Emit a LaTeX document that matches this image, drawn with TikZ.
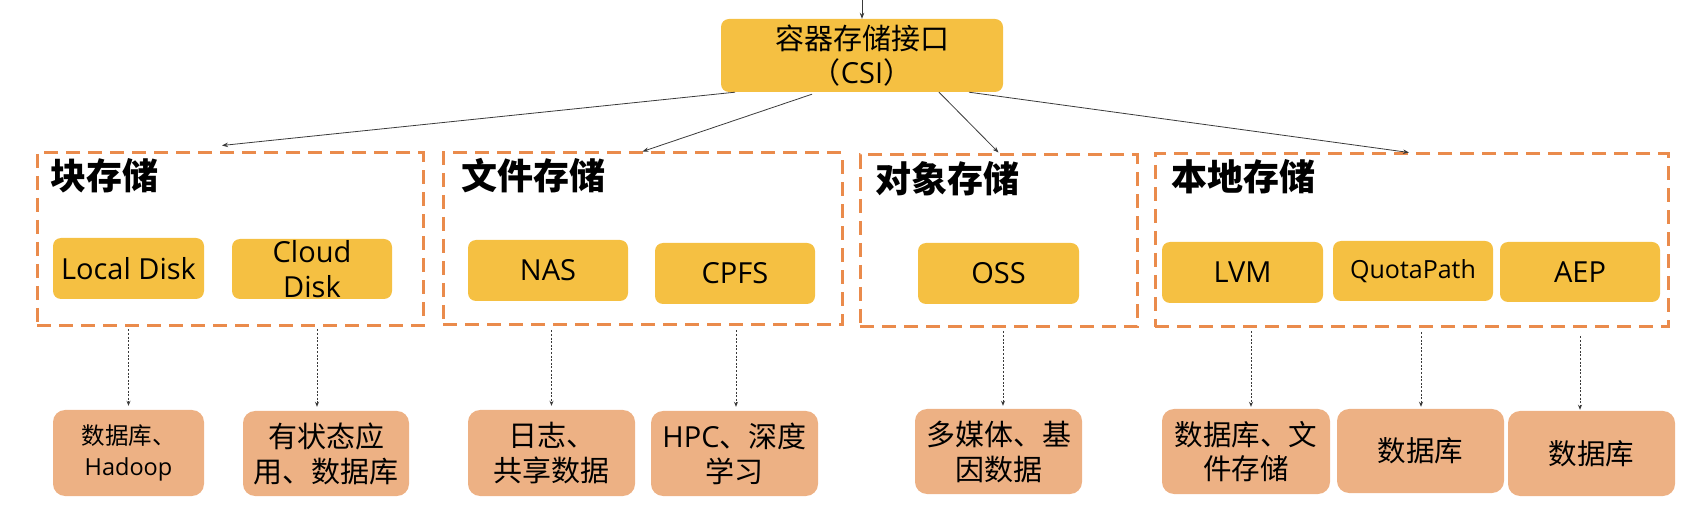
\documentclass[tikz,border=0pt]{standalone}
\usepackage{fontspec}
\setmainfont{Open Sans}
\newfontfamily\lat{Open Sans}
\newfontfamily\cjk{Noto Sans CJK SC}
\usetikzlibrary{arrows.meta}
\definecolor{ybox}{HTML}{F5C042}
\definecolor{tbox}{HTML}{EDB184}
\definecolor{dashc}{HTML}{EA8B4C}
\definecolor{linec}{HTML}{3A3A3A}
\begin{document}
\begin{tikzpicture}[x=1pt,y=-1pt,
  ybx/.style={fill=ybox, rounded corners=8pt, inner sep=0pt, align=center, font=\lat\fontsize{29}{35}\selectfont},
  tbx/.style={fill=tbox, rounded corners=12pt, inner sep=0pt, align=center, font=\cjk\fontsize{29}{35}\selectfont},
  grp/.style={draw=dashc, line width=3pt, dash pattern=on 14pt off 8pt, inner sep=0pt},
  ttl/.style={anchor=base west, inner sep=0pt, font=\cjk\bfseries\fontsize{36}{42}\selectfont},
  conn/.style={draw=linec, line width=0.8pt, -{Stealth[length=6pt,width=4.5pt]}},
  dotarr/.style={draw=linec, line width=1pt, dash pattern=on 2pt off 1.6pt, -{Stealth[length=5pt,width=4pt]}},
]
\useasboundingbox (0,0) rectangle (1706,510);

% top node
\node[ybx, font=\cjk\fontsize{29}{34}\selectfont, minimum width=282pt, minimum height=73pt] (csi) at (862,55.5) {容器存储接口\\（{\lat CSI}）};
\coordinate (topin) at (862,0);
\draw[conn] (topin) -- (csi.north);

% groups
\node[grp, minimum width=386pt, minimum height=173pt] (block) at (230,239.5) {};
\node[grp, minimum width=399pt, minimum height=172pt] (file) at (642.5,239) {};
\node[grp, minimum width=277pt, minimum height=172pt] (object) at (998.5,241) {};
\node[grp, minimum width=513pt, minimum height=173pt] (local) at (1411.5,240.5) {};

% titles
\node[ttl] (tblock) at (50,190) {块存储};
\node[ttl] (tfile) at (461,190) {文件存储};
\node[ttl] (tobject) at (875,193) {对象存储};
\node[ttl] (tlocal) at (1171,191) {本地存储};

% yellow boxes
\node[ybx, minimum width=151pt, minimum height=61pt] (ld) at (128.5,268.5) {Local Disk};
\node[ybx, minimum width=160pt, minimum height=60pt] (cd) at (312,269) {Cloud\\Disk};
\node[ybx, minimum width=160pt, minimum height=61pt] (nas) at (548,270.5) {NAS};
\node[ybx, minimum width=160pt, minimum height=61pt] (cpfs) at (735,273.5) {CPFS};
\node[ybx, minimum width=161pt, minimum height=61pt] (oss) at (998.5,273.5) {OSS};
\node[ybx, minimum width=161pt, minimum height=61pt] (lvm) at (1242.5,272.5) {LVM};
\node[ybx, minimum width=160pt, minimum height=60pt, font=\lat\fontsize{25}{29}\selectfont] (qp) at (1413,271) {QuotaPath};
\node[ybx, minimum width=160pt, minimum height=60pt] (aep) at (1580,272) {AEP};

% tan boxes
\node[tbx, minimum width=151pt, minimum height=86pt, font=\cjk\fontsize{23.5}{31}\selectfont] (t1) at (128.5,453) {数据库、\\{\lat Hadoop}};
\node[tbx, minimum width=166pt, minimum height=85pt] (t2) at (326,453.5) {有状态应\\用、数据库};
\node[tbx, minimum width=167pt, minimum height=86pt] (t3) at (551.5,453) {日志、\\共享数据};
\node[tbx, minimum width=167pt, minimum height=85pt] (t4) at (734.5,453.5) {{\lat HPC}、深度\\学习};
\node[tbx, minimum width=167pt, minimum height=85pt] (t5) at (998.5,451.5) {多媒体、基\\因数据};
\node[tbx, minimum width=168pt, minimum height=85pt, font=\cjk\fontsize{28.5}{34}\selectfont] (t6) at (1246,451.5) {数据库、文\\件存储};
\node[tbx, minimum width=167pt, minimum height=84pt, font=\cjk\fontsize{28.5}{34}\selectfont] (t7) at (1420.5,451) {数据库};
\node[tbx, minimum width=167pt, minimum height=85pt, font=\cjk\fontsize{28.5}{34}\selectfont] (t8) at (1591.5,453.5) {数据库};

% connectors from CSI
\draw[conn] ([xshift=-127pt]csi.south) -- ([xshift=-8pt,yshift=6pt]block.north);
\draw[conn] ([xshift=-50pt,yshift=-2pt]csi.south) -- (file.north);
\draw[conn] ([xshift=77pt]csi.south) -- ([yshift=1pt]object.north);
\draw[conn] ([xshift=107pt]csi.south) -- ([xshift=-2.5pt]local.north);

% dotted arrows
\coordinate (a1) at ([yshift=4pt]t1.north);
\coordinate (a2) at ([xshift=-9pt,yshift=4pt]t2.north);
\coordinate (a3) at ([yshift=4pt]t3.north);
\coordinate (a4) at ([xshift=1.5pt,yshift=4pt]t4.north);
\coordinate (a5) at ([xshift=4.5pt,yshift=3pt]t5.north);
\coordinate (a6) at ([xshift=5pt,yshift=2pt]t6.north);
\coordinate (a7) at ([xshift=0.5pt,yshift=2pt]t7.north);
\coordinate (a8) at ([xshift=-11.5pt,yshift=1pt]t8.north);
\draw[dotarr] ([yshift=-2pt]a1 |- block.south) -- (a1);
\draw[dotarr] ([yshift=-2pt]a2 |- block.south) -- (a2);
\draw[dotarr] ([yshift=-4pt]a3 |- file.south) -- (a3);
\draw[dotarr] ([yshift=-4pt]a4 |- file.south) -- (a4);
\draw[dotarr] ([yshift=-3pt]a5 |- object.south) -- (a5);
\draw[dotarr] ([yshift=-3pt]a6 |- local.south) -- (a6);
\draw[dotarr] ([yshift=-4pt]a7 |- local.south) -- (a7);
\draw[dotarr] ([yshift=-8pt]a8 |- local.south) -- (a8);
\end{tikzpicture}
\end{document}
